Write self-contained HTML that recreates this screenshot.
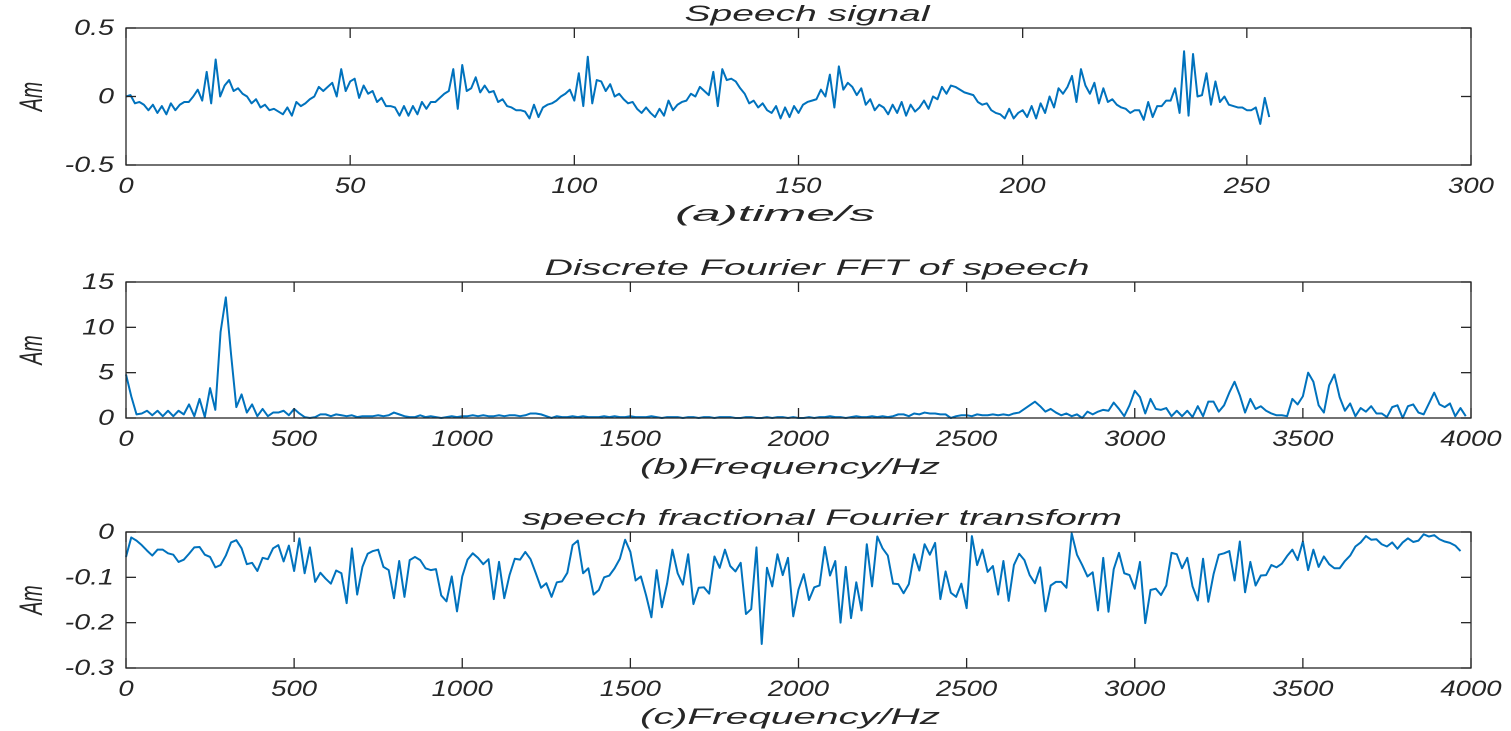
<!DOCTYPE html>
<html><head><meta charset="utf-8"><style>
html,body{margin:0;padding:0;background:#fff;}
svg{display:block;}
text{font-family:"Liberation Sans",sans-serif;font-style:italic;fill:#262626;}
</style></head><body>
<svg id="fig" width="1511" height="731" xmlns="http://www.w3.org/2000/svg"></svg>
<script>
const speechValues=[0,0.01,-0.05,-0.04,-0.06,-0.1,-0.06,-0.12,-0.07,-0.13,-0.05,-0.1,-0.06,-0.04,-0.04,0,0.05,-0.03,0.18,-0.05,
0.27,0,0.08,0.12,0.04,0.06,0.02,0.0,-0.05,-0.02,-0.08,-0.06,-0.1,-0.09,-0.11,-0.13,-0.08,-0.14,-0.04,-0.07,
-0.05,-0.02,0.0,0.07,0.04,0.07,0.1,0.0,0.2,0.04,0.11,0.13,-0.01,0.08,0.02,0.04,-0.04,-0.01,-0.07,-0.07,
-0.08,-0.14,-0.07,-0.14,-0.07,-0.13,-0.04,-0.09,-0.04,-0.04,-0.01,0.02,0.04,0.2,-0.09,0.23,0.04,0.06,0.14,0.03,
0.08,0.03,0.04,-0.04,-0.02,-0.07,-0.08,-0.1,-0.1,-0.11,-0.16,-0.06,-0.15,-0.08,-0.06,-0.05,-0.03,0.0,0.02,0.05,
-0.03,0.17,-0.07,0.29,-0.05,0.12,0.11,0.04,0.09,0.0,0.02,-0.02,-0.05,-0.04,-0.09,-0.12,-0.08,-0.12,-0.15,-0.09,
-0.14,-0.03,-0.1,-0.06,-0.04,-0.03,0.02,0.0,0.07,0.04,0.01,0.18,-0.07,0.2,0.12,0.13,0.11,0.06,0.02,-0.05,
-0.03,-0.08,-0.05,-0.1,-0.12,-0.07,-0.16,-0.08,-0.15,-0.07,-0.12,-0.06,-0.04,-0.03,-0.02,0.05,0.0,0.16,-0.08,0.22,
0.05,0.1,0.07,0.01,0.06,-0.06,-0.02,-0.1,-0.06,-0.08,-0.13,-0.06,-0.12,-0.04,-0.14,-0.06,-0.11,-0.08,-0.03,-0.09,
0.0,-0.02,0.07,0.02,0.08,0.07,0.05,0.03,0.02,0.01,-0.04,-0.06,-0.05,-0.1,-0.12,-0.13,-0.16,-0.09,-0.16,-0.12,
-0.1,-0.15,-0.07,-0.16,-0.05,-0.12,0.0,-0.08,0.06,0.02,0.07,0.15,-0.04,0.2,0.08,0.02,0.1,-0.05,0.06,-0.04,
-0.02,-0.06,-0.08,-0.09,-0.12,-0.1,-0.1,-0.17,-0.04,-0.15,-0.07,-0.07,-0.03,-0.03,0.06,-0.12,0.33,-0.14,0.31,0.0,
0.01,0.17,-0.06,0.11,-0.04,0.0,-0.06,-0.07,-0.08,-0.08,-0.1,-0.1,-0.08,-0.2,-0.01,-0.15];
const fftValues=[4.8,2.4,0.4,0.5,0.8,0.3,0.8,0.2,0.8,0.2,0.8,0.4,1.5,0.2,2.1,0.1,3.3,0.9,9.5,13.3,7.0,1.2,2.6,0.6,1.5,0.2,1.0,0.2,0.6,0.6,0.8,0.3,1.0,
0.5,0.1,0.0,0.1,0.4,0.4,0.2,0.4,0.3,0.2,0.3,0.1,0.2,0.2,0.2,0.3,0.2,0.3,
0.6,0.4,0.2,0.1,0.1,0.3,0.1,0.2,0.1,0.0,0.1,0.2,0.1,0.2,0.2,0.3,0.2,0.3,0.2,0.2,
0.3,0.2,0.3,0.3,0.2,0.3,0.5,0.5,0.4,0.2,0.0,0.2,0.1,0.1,0.2,0.1,0.2,0.1,0.1,0.1,
0.2,0.1,0.2,0.1,0.1,0.2,0.1,0.1,0.1,0.2,0.1,0.0,0.1,0.1,0.1,0.0,0.1,0.1,0.0,0.1,
0.1,0.0,0.1,0.1,0.1,0.0,0.0,0.1,0.1,0.0,0.0,0.1,0.0,0.1,0.1,0.0,0.1,0.0,0.0,0.1,
0.0,0.1,0.1,0.2,0.1,0.1,0.0,0.1,0.2,0.1,0.1,0.2,0.1,0.2,0.1,0.2,0.4,0.4,0.2,0.5,
0.4,0.6,0.5,0.5,0.4,0.4,0.0,0.2,0.3,
0.3,0.2,0.4,0.3,0.3,0.4,0.3,0.4,0.3,0.5,0.6,1.0,
1.4,1.8,1.3,0.7,1.0,0.6,0.3,0.5,0.2,0.4,0.0,0.7,0.4,0.7,0.9,0.8,1.7,1.0,0.2,1.4,3.0,2.3,0.5,2.1,1.0,0.9,1.1,0.2,0.8,0.2,0.8,0.1,1.3,0.2,1.8,1.8,0.7,1.4,2.8,4.0,2.5,0.6,2.1,1.0,1.3,0.8,0.5,0.3,0.3,0.2,2.1,1.5,2.4,5.0,4.0,1.4,0.6,3.6,4.8,2.3,0.8,1.6,0.2,1.1,0.7,1.3,0.5,0.5,0.1,1.2,1.4,0.0,1.3,1.5,0.6,0.4,1.6,2.8,1.5,1.2,1.6,0.2,1.1,0.2];
const frftValues=[-0.055,-0.012,-0.019,-0.029,-0.041,-0.052,-0.039,-0.039,-0.047,-0.050,-0.066,-0.061,-0.048,-0.034,-0.033,-0.050,-0.055,-0.078,-0.073,-0.052,-0.023,-0.018,-0.036,-0.071,-0.068,-0.086,-0.057,-0.060,-0.036,-0.029,-0.065,-0.030,-0.086,-0.014,-0.091,-0.034,-0.110,-0.090,-0.103,-0.114,-0.085,-0.091,-0.157,-0.036,-0.138,-0.077,-0.048,-0.042,-0.039,-0.077,-0.084,-0.146,-0.064,-0.143,-0.062,-0.055,-0.062,-0.080,-0.084,-0.082,-0.140,-0.153,-0.098,-0.175,-0.098,-0.061,-0.047,-0.057,-0.071,-0.060,-0.148,-0.066,-0.146,-0.095,-0.059,-0.061,-0.044,-0.060,-0.091,-0.123,-0.113,-0.143,-0.111,-0.109,-0.090,-0.029,
-0.019,-0.091,-0.080,-0.138,-0.128,-0.100,-0.096,-0.080,-0.059,-0.017,-0.044,-0.107,-0.098,-0.140,-0.188,-0.084,-0.166,-0.113,-0.039,-0.091,-0.116,-0.049,-0.159,-0.123,-0.122,-0.136,-0.054,-0.079,-0.039,-0.075,-0.087,-0.068,-0.181,-0.170,-0.034,-0.247,-0.079,-0.120,-0.049,-0.095,-0.057,-0.186,-0.127,-0.093,-0.150,-0.122,-0.118,-0.033,-0.096,-0.064,-0.200,-0.077,-0.190,-0.111,-0.173,-0.027,-0.120,-0.010,-0.036,-0.052,-0.114,-0.115,-0.135,-0.115,-0.049,-0.085,-0.027,-0.050,-0.024,-0.148,-0.087,-0.134,-0.143,-0.114,-0.168,-0.009,-0.073,-0.039,-0.088,-0.075,-0.138,-0.064,-0.152,-0.073,-0.048,-0.062,
-0.095,-0.113,-0.078,-0.175,-0.118,-0.110,-0.110,-0.123,-0.003,-0.050,-0.073,-0.098,-0.089,-0.173,-0.057,-0.176,-0.082,-0.046,-0.091,-0.095,-0.125,-0.066,-0.201,-0.128,-0.125,-0.139,-0.118,-0.046,-0.049,-0.080,-0.057,-0.120,-0.151,-0.059,-0.154,-0.093,-0.050,-0.047,-0.042,-0.107,-0.021,-0.133,-0.066,-0.118,-0.096,-0.095,-0.073,-0.078,-0.070,-0.053,-0.039,-0.062,-0.021,-0.084,-0.039,-0.077,-0.054,-0.071,-0.080,-0.080,-0.064,-0.052,-0.032,-0.023,-0.009,-0.017,-0.016,-0.027,-0.032,-0.023,-0.037,-0.023,-0.014,-0.022,-0.019,-0.005,-0.010,-0.007,-0.016,-0.021,-0.024,-0.030,-0.042];
const xTicks1=[0,50,100,150,200,250,300];
const yTicks1=[0.5,0,-0.5];
const xTicksF=[0,500,1000,1500,2000,2500,3000,3500,4000];
const yTicks2=[15,10,5,0];
const yTicks3=[0,-0.1,-0.2,-0.3];
const freqStep=15.625;

const NS="http://www.w3.org/2000/svg";
const svg=document.getElementById('fig');
function mk(tag,attrs,parent){const e=document.createElementNS(NS,tag);for(const k in attrs)e.setAttribute(k,attrs[k]);(parent||svg).appendChild(e);return e;}
function stretch(t,f){const w=t.getComputedTextLength();t.setAttribute('textLength',(w*f).toFixed(1));t.setAttribute('lengthAdjust','spacingAndGlyphs');}
function fixLen(t,len){t.setAttribute('textLength',len);t.setAttribute('lengthAdjust','spacingAndGlyphs');}
function panel(id,top,bottom,xmin,xmax,ymin,ymax,xt,yt,title,titleC,titleW,xlabel,xlC,xlW,xs,ys,fmt){
  const L=126,R=1471;
  const g=mk('g',{});
  
  
  const sx=v=>L+(v-xmin)/(xmax-xmin)*(R-L);
  const sy=v=>bottom-(v-ymin)/(ymax-ymin)*(bottom-top);
  let d='';
  for(let i=0;i<xs.length;i++){d+=(i?'L':'M')+sx(xs[i]).toFixed(2)+' '+sy(ys[i]).toFixed(2);}
  const line=mk('path',{d:d,fill:'none',stroke:'#0072BD','stroke-width':2,'stroke-linejoin':'round'},g);
  
  
  const box=mk('rect',{x:L,y:top,width:R-L,height:bottom-top,fill:'none',stroke:'#262626','stroke-width':1.3},g);
  
  
  xt.forEach(v=>{
    const x=sx(v);
    mk('line',{x1:x,x2:x,y1:bottom,y2:bottom-10,stroke:'#262626','stroke-width':1.3},g);
    mk('line',{x1:x,x2:x,y1:top,y2:top+10,stroke:'#262626','stroke-width':1.3},g);
    const t=mk('text',{x:x,y:bottom+28,'text-anchor':'middle','font-size':22},g);
    t.textContent=String(v);
    
    
    stretch(t,1.25);
  });
  yt.forEach(v=>{
    const y=sy(v);
    mk('line',{x1:L,x2:L+10,y1:y,y2:y,stroke:'#262626','stroke-width':1.3},g);
    mk('line',{x1:R,x2:R-10,y1:y,y2:y,stroke:'#262626','stroke-width':1.3},g);
    const t=mk('text',{x:L-12,y:y+7,'text-anchor':'end','font-size':22},g);
    t.textContent=fmt(v);
    
    
    stretch(t,1.3);
  });
  const tt=mk('text',{x:titleC,y:top-7,'text-anchor':'middle','font-size':22},g);
  tt.textContent=title;
  
  
  fixLen(tt,titleW);
  const xl=mk('text',{x:xlC,y:bottom+56,'text-anchor':'middle','font-size':22},g);
  xl.textContent=xlabel;
  
  
  fixLen(xl,xlW);
  const cy=(top+bottom)/2;
  const yl=mk('text',{x:0,y:0,'text-anchor':'middle','font-size':23,transform:'translate(42 '+cy+') rotate(-90) scale(0.85 1.4)'},g);
  yl.textContent='Am';
  
  
}
const f1=v=>v===0?'0':String(v);
panel('speech',28,165,0,300,-0.5,0.5,xTicks1,yTicks1,'Speech signal',807,245,'(a)time/s',775,200,speechValues.map((v,i)=>i),speechValues,f1);
panel('fft',282,418,0,4000,0,15,xTicksF,yTicks2,'Discrete Fourier FFT of speech',817,545,'(b)Frequency/Hz',790,300,fftValues.map((v,i)=>i*freqStep),fftValues,f1);
panel('frft',532,668,0,4000,-0.3,0,xTicksF,yTicks3,'speech fractional Fourier transform',822,600,'(c)Frequency/Hz',790,300,frftValues.map((v,i)=>i*freqStep),frftValues,f1);
</script>
</body></html>
